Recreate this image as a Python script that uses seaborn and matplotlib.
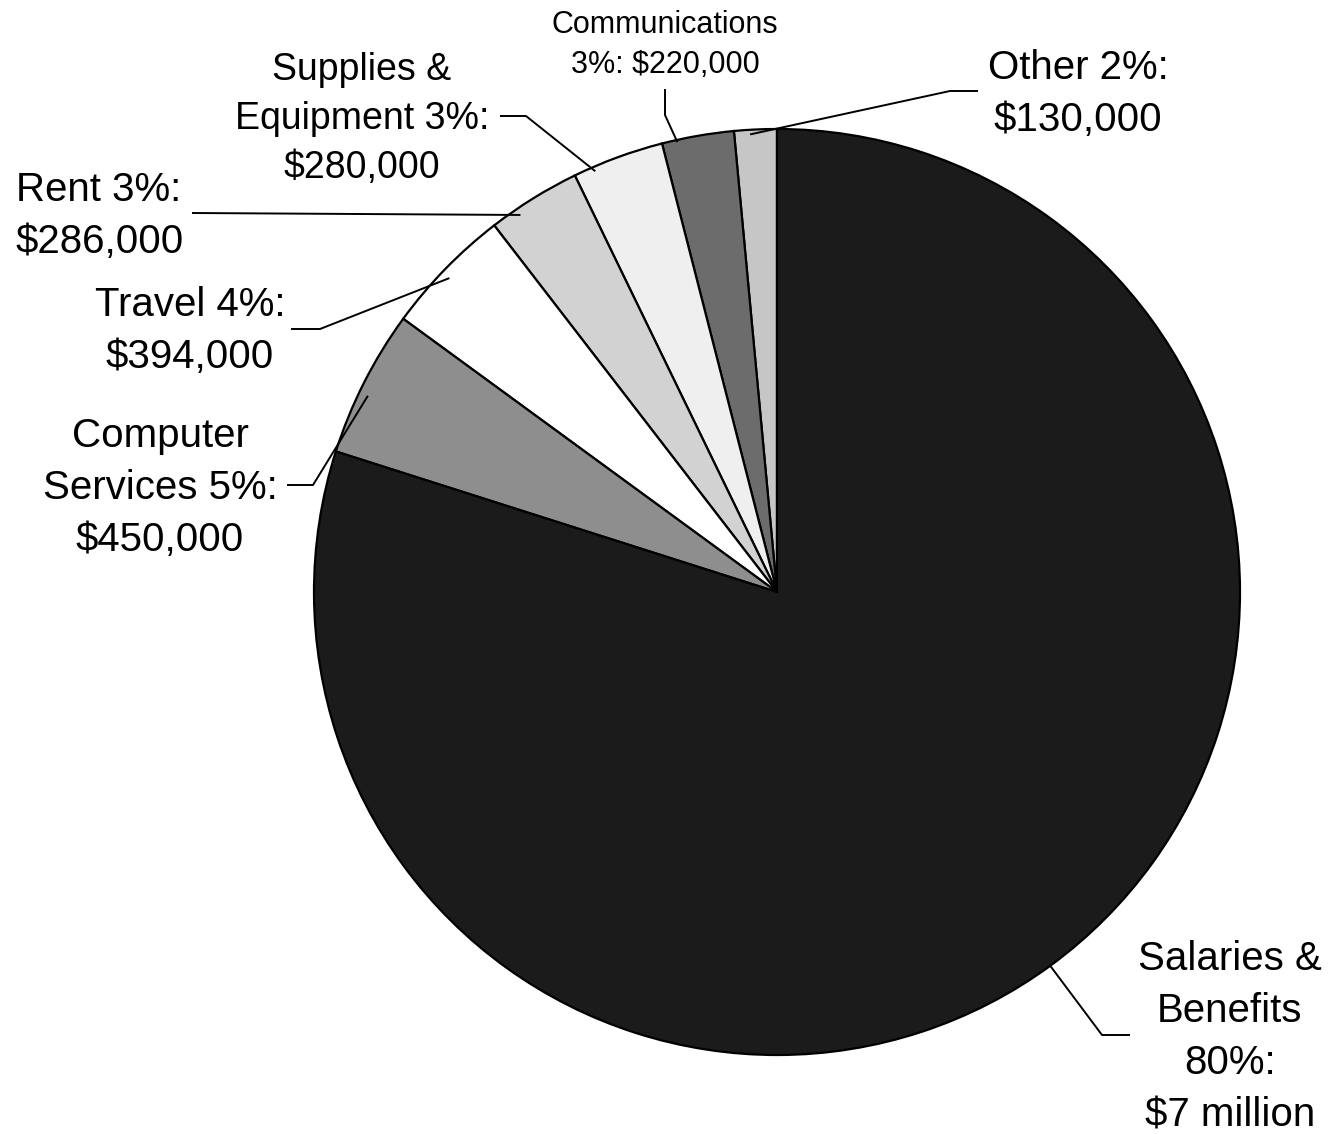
import numpy as np
import matplotlib
matplotlib.use("Agg")
import matplotlib.pyplot as plt
import seaborn as sns

# --- DATA ---
categories = ["Other", "Communications", "Supplies & Equipment", "Rent",
              "Travel", "Computer Services", "Salaries & Benefits"]
amounts = [130000, 220000, 280000, 286000, 394000, 450000, 7000000]
labels = ["Other 2%:\n$130,000",
          "Communications\n3%: $220,000",
          "Supplies &\nEquipment 3%:\n$280,000",
          "Rent 3%:\n$286,000",
          "Travel 4%:\n$394,000",
          "Computer\nServices 5%:\n$450,000",
          "Salaries &\nBenefits\n80%:\n$7 million"]
shades = ["#c6c6c6", "#6c6c6c", "#efefef", "#d2d2d2", "#ffffff", "#8e8e8e", "#1b1b1b"]

# --- LAYOUT (pixel-like canvas, y measured from the top of the picture) ---
W, H = 1330, 1134
CX, CY, R = 777, 592, 463

def fy(y):
    return H - y

# text block: (x, y, ha, fontsize)
text_pos = [(1078, 94, "center", 29),
            (665, 45, "center", 22),
            (362, 119, "center", 27),
            (15, 216, "left", 29),
            (190, 331, "center", 29),
            (160, 488, "center", 29),
            (1230, 1037, "center", 29)]
# leader line: start of horizontal stub, elbow, where along the wedge it lands
leader = [((978, 91), (950, 91), 0.63, 0.99),
          ((665, 89), (665, 115), 0.79, 0.995),
          ((500, 116), (526, 116), 0.78, 0.99),
          ((192, 213), None, 0.71, 0.985),
          ((291, 329), (320, 329), 0.53, 0.98),
          ((287, 485), (313, 485), 0.57, 0.98),
          ((1130, 1035), (1102, 1035), 0.5, 1.0)]

sns.set_theme(style="white")
plt.rcParams["font.family"] = ["Liberation Sans", "DejaVu Sans"]

fig = plt.figure(figsize=(W / 100, H / 100), dpi=100)
ax = fig.add_axes([0, 0, 1, 1])

wedges, _ = ax.pie(amounts, colors=shades, startangle=90, counterclock=True,
                   center=(CX, fy(CY)), radius=R,
                   wedgeprops=dict(edgecolor="black", linewidth=1.6))

for w, lab, (tx, ty, ha, fs), (p0, elbow, frac, rf) in zip(wedges, labels, text_pos, leader):
    ax.text(tx, fy(ty), lab, ha=ha, va="center", fontsize=fs,
            linespacing=1.47, multialignment="center", color="black")
    t1, t2 = w.theta1, w.theta2
    ang = np.deg2rad(t1 + frac * (t2 - t1))
    end = (CX + rf * R * np.cos(ang), fy(CY) + rf * R * np.sin(ang))
    pts = [(p0[0], fy(p0[1]))]
    if elbow is not None:
        pts.append((elbow[0], fy(elbow[1])))
    pts.append(end)
    xs, ys = zip(*pts)
    ax.plot(xs, ys, color="black", lw=1.4, solid_capstyle="butt")

ax.set_xlim(0, W)
ax.set_ylim(0, H)
ax.set_aspect("equal")
ax.axis("off")

fig.savefig("out.png", dpi=100, facecolor="white")
